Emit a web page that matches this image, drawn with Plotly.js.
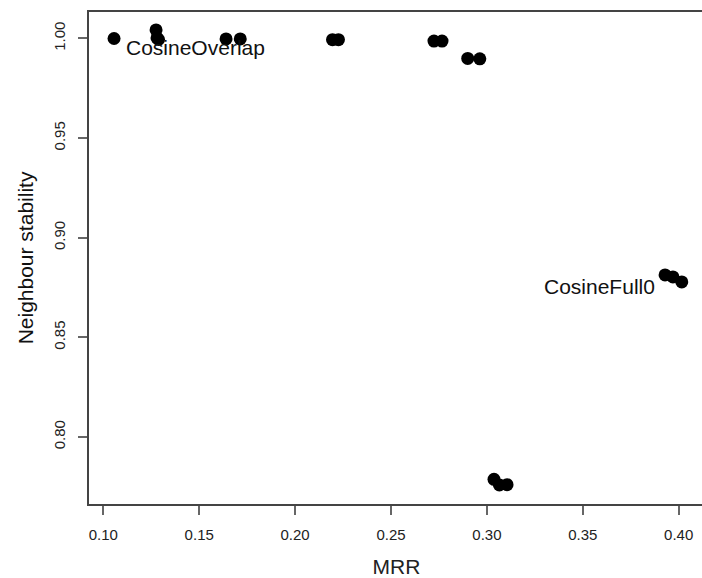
<!DOCTYPE html>
<html>
<head>
<meta charset="utf-8">
<script src="https://cdn.plot.ly/plotly-3.0.1.min.js"></script>
<style>
html,body{margin:0;padding:0;overflow:hidden;background:#fff;width:702px;height:578px;}
#chart{width:710px;height:578px;}
</style>
</head>
<body>
<div id="chart"></div>
<script>
// Data
var mrr = [0.1056, 0.1275, 0.1280, 0.1288, 0.1640, 0.1714, 0.2195, 0.2226,
           0.2724, 0.2766, 0.2900, 0.2963, 0.3037, 0.3065, 0.3105,
           0.3929, 0.3970, 0.4016];
var stability = [1.0000, 1.0043, 1.0003, 0.9995, 0.9998, 0.9998, 0.9994, 0.9994,
                 0.9987, 0.9987, 0.9900, 0.9898, 0.7787, 0.7759, 0.7760,
                 0.8813, 0.8803, 0.8778];
var labelText = ["CosineOverlap", "CosineFull0"];
var labelX = [0.1109, 0.3887];
var labelY = [0.9957, 0.8753];
var xTicks = [0.10, 0.15, 0.20, 0.25, 0.30, 0.35, 0.40];
var xTickText = ["0.10", "0.15", "0.20", "0.25", "0.30", "0.35", "0.40"];
var yTicks = [0.80, 0.85, 0.90, 0.95, 1.00];
var yTickText = ["0.80", "0.85", "0.90", "0.95", "1.00"];

var font = "Liberation Sans, Arial, sans-serif";

var trace = {
  x: mrr, y: stability, type: "scatter", mode: "markers",
  marker: {color: "#000", size: 13, line: {width: 0}},
  hoverinfo: "none"
};

var layout = {
  width: 710, height: 578,
  margin: {l: 89, r: 6, t: 12, b: 74, pad: 0},
  paper_bgcolor: "#fff", plot_bgcolor: "#fff",
  showlegend: false,
  font: {family: font, color: "#222"},
  xaxis: {
    range: [0.09254, 0.41319], autorange: false,
    tickvals: xTicks, ticktext: xTickText,
    ticks: "outside", ticklen: 9, tickwidth: 2, tickcolor: "#666",
    ticklabelstandoff: 7,
    tickfont: {size: 15, color: "#222"},
    showgrid: false, zeroline: false,
    showline: true, linecolor: "#444", linewidth: 2, mirror: true,
    title: {text: "MRR", font: {size: 21, color: "#222"}, standoff: 18}
  },
  yaxis: {
    range: [0.76632, 1.0133], autorange: false,
    tickvals: yTicks, ticktext: yTickText, tickangle: -90,
    ticks: "outside", ticklen: 9, tickwidth: 2, tickcolor: "#666",
    ticklabelstandoff: 7,
    tickfont: {size: 15, color: "#222"},
    showgrid: false, zeroline: false,
    showline: true, linecolor: "#444", linewidth: 2, mirror: true,
    title: {text: "Neighbour stability", font: {size: 21, color: "#111"}, standoff: 12}
  },
  annotations: [
    {x: labelX[0], y: labelY[0], text: labelText[0], showarrow: false,
     xanchor: "left", yanchor: "middle", font: {size: 21, color: "#111", family: font}},
    {x: labelX[1], y: labelY[1], text: labelText[1], showarrow: false,
     xanchor: "right", yanchor: "middle", font: {size: 21, color: "#111", family: font}}
  ]
};

Plotly.newPlot("chart", [trace], layout, {displayModeBar: false, staticPlot: true});
</script>
</body>
</html>
